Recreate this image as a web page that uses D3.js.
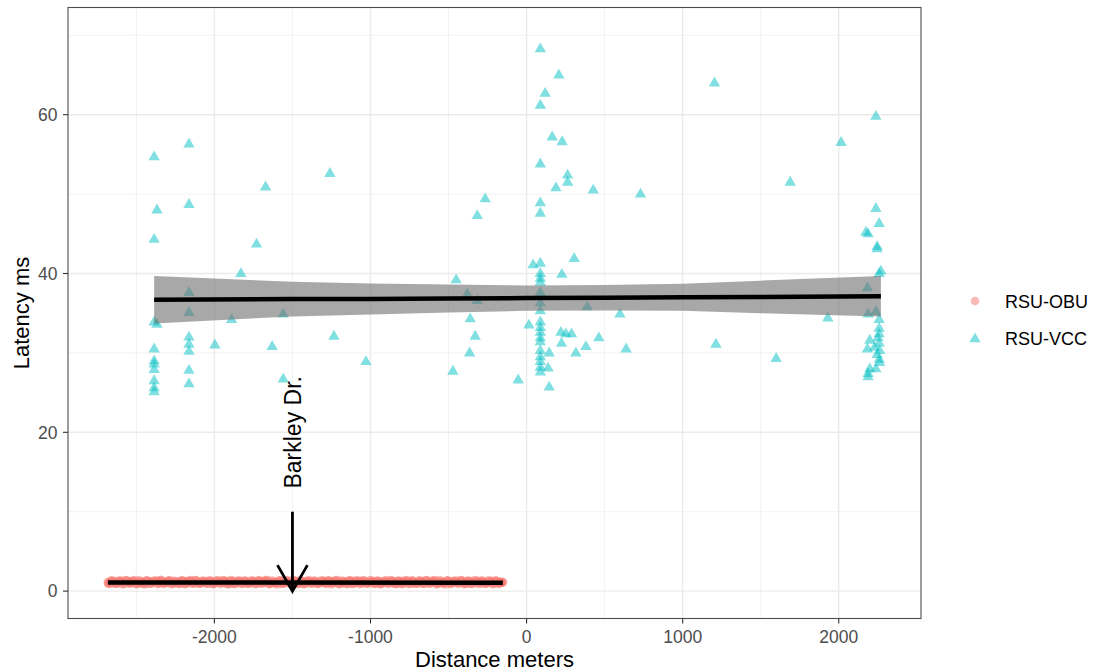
<!DOCTYPE html>
<html>
<head>
<meta charset="utf-8">
<script src="https://cdn.jsdelivr.net/npm/d3@7"></script>
<style>
  html, body { margin: 0; padding: 0; background: #ffffff; }
  svg { display: block; font-family: "Liberation Sans", Arial, Helvetica, sans-serif; }
</style>
</head>
<body>
<svg id="chart" width="1093" height="672"></svg>
<script>
// ---- RSU-OBU latency samples (distance in m, latency in ms), three passes ----
const obuDistanceA = [
  -2682, -2668, -2641, -2620, -2597, -2575, -2549, -2533, -2508, -2486,
  -2462, -2441, -2419, -2396, -2371, -2352, -2330, -2305, -2284, -2262,
  -2240, -2217, -2195, -2171, -2150, -2128, -2104, -2083, -2061, -2037,
  -2015, -1994, -1970, -1948, -1925, -1903, -1881, -1859, -1836, -1813,
  -1792, -1770, -1747, -1724, -1702, -1680, -1659, -1635, -1613, -1590,
  -1569, -1546, -1523, -1500, -1479, -1457, -1434, -1411, -1390, -1367,
  -1345, -1322, -1300, -1278, -1255, -1233, -1210, -1188, -1166, -1143,
  -1121, -1098, -1076, -1054, -1031, -1009, -987, -964, -942, -919,
  -897, -875, -852, -830, -808, -785, -763, -741, -718, -696,
  -674, -651, -629, -607, -584, -562, -540, -517, -495, -473,
  -450, -428, -406, -383, -361, -339, -316, -294, -272, -249,
  -227, -205, -182, -165, -152
];
const obuLatencyA = [
  1.12, 0.98, 1.25, 1.05, 1.31, 0.92, 1.18, 1.08, 1.36, 1.02,
  1.15, 0.89, 1.22, 1.10, 1.29, 0.95, 1.14, 1.06, 1.33, 1.01,
  1.19, 0.91, 1.24, 1.09, 1.38, 0.97, 1.13, 1.04, 1.27, 0.93,
  1.17, 1.11, 1.35, 1.00, 1.21, 0.88, 1.26, 1.07, 1.32, 0.96,
  1.16, 1.03, 1.28, 0.94, 1.20, 1.12, 1.37, 0.99, 1.14, 0.90,
  1.23, 1.08, 1.30, 1.02, 1.18, 0.95, 1.25, 1.10, 1.34, 0.97,
  1.15, 1.05, 1.29, 0.92, 1.19, 1.09, 1.36, 1.01, 1.22, 0.89,
  1.27, 1.06, 1.31, 0.98, 1.13, 1.04, 1.26, 0.93, 1.17, 1.11,
  1.38, 1.00, 1.21, 0.91, 1.24, 1.07, 1.33, 0.96, 1.16, 1.03,
  1.28, 0.94, 1.20, 1.12, 1.35, 0.99, 1.14, 0.90, 1.23, 1.08,
  1.30, 1.02, 1.18, 0.95, 1.25, 1.10, 1.32, 0.97, 1.15, 1.05,
  1.27, 0.92, 1.19, 1.09, 1.12
];
const obuDistanceB = [
  -2676, -2655, -2631, -2608, -2587, -2561, -2540, -2520, -2497, -2473,
  -2452, -2430, -2408, -2383, -2362, -2341, -2318, -2294, -2273, -2251,
  -2229, -2206, -2183, -2161, -2139, -2116, -2093, -2072, -2049, -2026,
  -2004, -1982, -1959, -1937, -1914, -1892, -1870, -1847, -1825, -1802,
  -1781, -1758, -1736, -1713, -1691, -1669, -1647, -1624, -1601, -1580,
  -1557, -1535, -1511, -1490, -1468, -1446, -1423, -1401, -1379, -1356,
  -1334, -1311, -1289, -1266, -1244, -1222, -1199, -1177, -1155, -1132,
  -1110, -1087, -1065, -1043, -1020, -998, -976, -953, -931, -908,
  -886, -864, -841, -819, -797, -774, -752, -730, -707, -685,
  -663, -640, -618, -596, -573, -551, -529, -506, -484, -462,
  -439, -417, -395, -372, -350, -328, -305, -283, -261, -238,
  -216, -194, -173, -158
];
const obuLatencyB = [
  1.04, 1.28, 0.93, 1.20, 1.11, 1.34, 0.99, 1.23, 0.90, 1.16,
  1.07, 1.31, 0.96, 1.19, 1.13, 1.37, 1.01, 1.25, 0.88, 1.14,
  1.09, 1.30, 0.94, 1.22, 1.05, 1.35, 0.98, 1.18, 1.12, 1.27,
  0.92, 1.15, 1.08, 1.33, 1.00, 1.24, 0.89, 1.17, 1.10, 1.29,
  0.95, 1.21, 1.06, 1.36, 1.02, 1.26, 0.91, 1.13, 1.09, 1.32,
  0.97, 1.20, 1.04, 1.38, 0.99, 1.23, 0.93, 1.16, 1.11, 1.28,
  0.96, 1.19, 1.07, 1.34, 1.01, 1.25, 0.90, 1.14, 1.12, 1.30,
  0.94, 1.22, 1.05, 1.35, 0.98, 1.18, 1.10, 1.27, 0.92, 1.15,
  1.08, 1.31, 1.00, 1.24, 0.89, 1.17, 1.13, 1.29, 0.95, 1.21,
  1.06, 1.37, 1.02, 1.26, 0.91, 1.14, 1.09, 1.33, 0.97, 1.20,
  1.04, 1.36, 0.99, 1.23, 0.93, 1.16, 1.11, 1.28, 0.96, 1.19,
  1.07, 1.32, 1.01, 1.10
];
const obuDistanceC = [
  -2679, -2661, -2636, -2614, -2592, -2568, -2545, -2526, -2502, -2480,
  -2457, -2435, -2413, -2389, -2366, -2346, -2324, -2299, -2278, -2256,
  -2234, -2211, -2189, -2166, -2144, -2122, -2098, -2077, -2055, -2031,
  -2009, -1988, -1964, -1942, -1919, -1897, -1875, -1853, -1830, -1807,
  -1786, -1764, -1741, -1718, -1696, -1674, -1653, -1629, -1607, -1585,
  -1563, -1540, -1517, -1495, -1473, -1451, -1428, -1406, -1384, -1361,
  -1339, -1316, -1294, -1272, -1249, -1227, -1205, -1182, -1160, -1137,
  -1115, -1093, -1070, -1048, -1025, -1003, -981, -958, -936, -914,
  -891, -869, -847, -824, -802, -780, -757, -735, -713, -690,
  -668, -646, -623, -601, -579, -556, -534, -512, -489, -467,
  -445, -422, -400, -378, -355, -333, -311, -288, -266, -244,
  -221, -199, -177, -161
];
const obuLatencyC = [
  0.92, 1.34, 0.95, 1.31, 0.90, 1.36, 0.97, 1.29, 0.93, 1.33,
  0.89, 1.35, 0.96, 1.30, 0.91, 1.37, 0.94, 1.32, 0.98, 1.28,
  0.92, 1.34, 0.90, 1.31, 0.95, 1.36, 0.93, 1.29, 0.97, 1.33,
  0.91, 1.35, 0.94, 1.30, 0.89, 1.37, 0.96, 1.32, 0.92, 1.28,
  0.95, 1.34, 0.90, 1.31, 0.97, 1.36, 0.93, 1.29, 0.91, 1.33,
  0.94, 1.35, 0.96, 1.30, 0.92, 1.37, 0.89, 1.32, 0.95, 1.28,
  0.93, 1.34, 0.97, 1.31, 0.90, 1.36, 0.94, 1.29, 0.92, 1.33,
  0.96, 1.35, 0.91, 1.30, 0.95, 1.37, 0.93, 1.32, 0.89, 1.28,
  0.94, 1.34, 0.92, 1.31, 0.97, 1.36, 0.90, 1.29, 0.95, 1.33,
  0.93, 1.35, 0.96, 1.30, 0.91, 1.37, 0.94, 1.32, 0.92, 1.28,
  0.97, 1.34, 0.90, 1.31, 0.95, 1.36, 0.93, 1.29, 0.96, 1.33,
  0.91, 1.30, 0.94, 1.12
];

// ---- RSU-VCC latency samples ----
const vccDistance = [
  -2386, -2368, -2386, -2386, -2368, -2386, -2386, -2386, -2386, -2386, -2386, -2386,
  -2163, -2163, -2163, -2163, -2163, -2163, -2163, -2163, -2163,
  -1672, -1260, -1730, -1830, -1559, -1890, -1997, -1630, -1234, -1029, -1559,
  -265, -316, -451, -380, -316, -361, -329, -365, -472,
  88, 88, 88, 88, 88, 88, 88, 88, 88, 88, 88, 88, 88, 88, 88, 88, 88, 88, 88, 88, 88, 88,
  207, 119, 164, 228, 263, 263, 188, 427, 42, 305, 226, 388, 598, 15, 220, 252, 288,
  463, 224, 380, 638, 145, 316, 138, 145, -54,
  1204, 730, 1689, 1213, 1599, 1930, 2015,
  2238, 2238, 2259, 2174, 2188, 2246, 2246, 2270, 2259, 2184, 2188, 2238, 2259, 2259,
  2259, 2199, 2252, 2259, 2184, 2230, 2262, 2246, 2259, 2262, 2199, 2238, 2188, 2188
];
const vccLatency = [
  54.8, 48.1, 44.4, 34.0, 33.7, 30.6, 29.1, 28.7, 28.0, 26.6, 25.7, 25.2,
  56.4, 48.8, 37.7, 35.2, 32.1, 31.2, 30.3, 27.9, 26.2,
  51.0, 52.7, 43.8, 40.1, 35.0, 34.3, 31.1, 30.9, 32.2, 29.0, 26.8,
  49.5, 47.4, 39.3, 37.5, 36.7, 34.4, 32.2, 30.1, 27.8,
  68.4, 61.3, 53.9, 49.0, 47.7, 41.4, 40.1, 39.5, 39.0, 37.7, 36.4, 35.4, 34.0, 33.3, 32.7, 32.0, 31.5, 30.4, 29.6, 29.0, 28.3, 27.7,
  65.1, 62.8, 57.3, 56.7, 52.5, 51.6, 50.9, 50.6, 41.2, 42.0, 40.0, 35.9, 35.0, 33.6, 32.7, 32.5, 32.5,
  32.0, 31.3, 30.9, 30.6, 30.1, 30.1, 28.2, 25.8, 26.7,
  64.1, 50.1, 51.6, 31.2, 29.4, 34.5, 56.6,
  59.9, 48.3, 46.4, 45.3, 45.1, 43.5, 43.2, 40.4, 40.1, 38.3, 35.0, 35.3, 34.3, 33.2,
  32.5, 31.7, 32.0, 31.3, 30.6, 30.8, 30.4, 29.9, 29.3, 28.9, 28.1, 28.1, 27.5, 27.1
];

// ---- Linear fits (fitted value with 95% band) ----
const obuFitDistance = [-2682, -152];
const obuFitLatency = [1.09, 1.06];

const vccFitDistance = [-2386, -1500, -1000, -500, 0, 500, 1000, 1500, 2270];
const vccFitLatency  = [36.70, 36.78, 36.80, 36.85, 36.90, 36.95, 37.00, 37.05, 37.15];
const vccFitLower    = [33.70, 34.60, 34.85, 35.10, 35.30, 35.35, 35.30, 35.00, 34.60];
const vccFitUpper    = [39.70, 38.95, 38.75, 38.60, 38.50, 38.55, 38.70, 39.10, 39.70];

// ---- Axes ----
const xTicks = [-2000, -1000, 0, 1000, 2000];
const xMinor = [-2500, -1500, -500, 500, 1500];
const yTicks = [0, 20, 40, 60];
const yMinor = [10, 30, 50, 70];

const seriesNames = ["RSU-OBU", "RSU-VCC"];
const seriesColors = ["#F8766D", "#00BFC4"];

// ---- Annotation ----
const landmarkLabel = "Barkley Dr.";
const landmarkDistance = -1500;
const landmarkLabelLatency = 20;
const arrowFrom = 10;
const arrowTo = 0;

// ---- Layout ----
const svg = d3.select("#chart");
const panel = { left: 68, right: 921, top: 7.5, bottom: 618.5 };

const x = d3.scaleLinear().domain([-2938, 2527]).range([panel.left, panel.right]);
const y = d3.scaleLinear().domain([-3.45, 73.5]).range([panel.bottom, panel.top]);

const g = svg.append("g");

// panel background
g.append("rect")
  .attr("x", panel.left).attr("y", panel.top)
  .attr("width", panel.right - panel.left).attr("height", panel.bottom - panel.top)
  .attr("fill", "#ffffff");

// grid lines
const grid = g.append("g");
grid.selectAll(".xminor").data(xMinor).join("line")
  .attr("x1", d => x(d)).attr("x2", d => x(d))
  .attr("y1", panel.top).attr("y2", panel.bottom)
  .attr("stroke", "#F2F2F2").attr("stroke-width", 1);
grid.selectAll(".yminor").data(yMinor).join("line")
  .attr("y1", d => y(d)).attr("y2", d => y(d))
  .attr("x1", panel.left).attr("x2", panel.right)
  .attr("stroke", "#F2F2F2").attr("stroke-width", 1);
grid.selectAll(".xmajor").data(xTicks).join("line")
  .attr("x1", d => x(d)).attr("x2", d => x(d))
  .attr("y1", panel.top).attr("y2", panel.bottom)
  .attr("stroke", "#EBEBEB").attr("stroke-width", 1.4);
grid.selectAll(".ymajor").data(yTicks).join("line")
  .attr("y1", d => y(d)).attr("y2", d => y(d))
  .attr("x1", panel.left).attr("x2", panel.right)
  .attr("stroke", "#EBEBEB").attr("stroke-width", 1.4);

// points
const pair = (ds, vs) => ds.map((d, i) => ({ d, v: vs[i] }));
const obu = pair(obuDistanceA, obuLatencyA)
  .concat(pair(obuDistanceB, obuLatencyB))
  .concat(pair(obuDistanceC, obuLatencyC));
const vcc = pair(vccDistance, vccLatency);

g.append("g").selectAll("circle").data(obu).join("circle")
  .attr("cx", p => x(p.d)).attr("cy", p => y(p.v))
  .attr("r", 4.5)
  .attr("fill", seriesColors[0]).attr("fill-opacity", 0.5);

const tri = d3.symbol().type(d3.symbolTriangle).size(56);
g.append("g").selectAll("path").data(vcc).join("path")
  .attr("transform", p => `translate(${x(p.d)},${y(p.v) + 1})`)
  .attr("d", tri)
  .attr("fill", seriesColors[1]).attr("fill-opacity", 0.5);

// fitted band and lines
const band = vccFitDistance.map((d, i) => ({ d, lo: vccFitLower[i], hi: vccFitUpper[i], f: vccFitLatency[i] }));
g.append("path").datum(band)
  .attr("d", d3.area().x(p => x(p.d)).y0(p => y(p.lo)).y1(p => y(p.hi)))
  .attr("fill", "#6e6e6e").attr("fill-opacity", 0.6);

const fitLine = d3.line().x(p => x(p.d)).y(p => y(p.f));
g.append("path").datum(band)
  .attr("d", fitLine)
  .attr("fill", "none").attr("stroke", "#000").attr("stroke-width", 4.5);

const obuFit = obuFitDistance.map((d, i) => ({ d, f: obuFitLatency[i] }));
g.append("path").datum(obuFit)
  .attr("d", fitLine)
  .attr("fill", "none").attr("stroke", "#000").attr("stroke-width", 4.5);

// annotation arrow and label
const ax = x(landmarkDistance);
const tipY = y(arrowTo);
const headLen = 30, headAng = Math.PI / 6;
const ann = g.append("g").attr("stroke", "#000").attr("stroke-width", 2.8).attr("fill", "none");
ann.append("line")
  .attr("x1", ax).attr("x2", ax).attr("y1", y(arrowFrom)).attr("y2", tipY);
ann.append("path")
  .attr("d", `M${ax - headLen * Math.sin(headAng)},${tipY - headLen * Math.cos(headAng)}L${ax},${tipY}L${ax + headLen * Math.sin(headAng)},${tipY - headLen * Math.cos(headAng)}`);

g.append("text")
  .attr("transform", `translate(${ax + 8.5},${y(landmarkLabelLatency)}) rotate(-90)`)
  .attr("text-anchor", "middle")
  .attr("font-size", 23)
  .attr("fill", "#000")
  .text(landmarkLabel);

// panel border
g.append("rect")
  .attr("x", panel.left).attr("y", panel.top)
  .attr("width", panel.right - panel.left).attr("height", panel.bottom - panel.top)
  .attr("fill", "none").attr("stroke", "#4d4d4d").attr("stroke-width", 1.1);

// axis ticks and labels
const axisX = g.append("g");
axisX.selectAll("line").data(xTicks).join("line")
  .attr("x1", d => x(d)).attr("x2", d => x(d))
  .attr("y1", panel.bottom).attr("y2", panel.bottom + 5)
  .attr("stroke", "#333").attr("stroke-width", 1.1);
axisX.selectAll("text").data(xTicks).join("text")
  .attr("x", d => x(d)).attr("y", panel.bottom + 24)
  .attr("text-anchor", "middle").attr("font-size", 17.5).attr("fill", "#4D4D4D")
  .text(d => d3.format("d")(d).replace("−", "-"));

const axisY = g.append("g");
axisY.selectAll("line").data(yTicks).join("line")
  .attr("y1", d => y(d)).attr("y2", d => y(d))
  .attr("x1", panel.left - 5).attr("x2", panel.left)
  .attr("stroke", "#333").attr("stroke-width", 1.1);
axisY.selectAll("text").data(yTicks).join("text")
  .attr("x", panel.left - 10.5).attr("y", d => y(d) + 6.3)
  .attr("text-anchor", "end").attr("font-size", 17.5).attr("fill", "#4D4D4D")
  .text(d => d);

// axis titles
svg.append("text")
  .attr("x", (panel.left + panel.right) / 2).attr("y", 667)
  .attr("text-anchor", "middle").attr("font-size", 22).attr("fill", "#000")
  .text("Distance meters");
svg.append("text")
  .attr("transform", `translate(29,${(panel.top + panel.bottom) / 2}) rotate(-90)`)
  .attr("text-anchor", "middle").attr("font-size", 22).attr("fill", "#000")
  .text("Latency ms");

// legend
const legend = svg.append("g");
const legendY = [301, 338];
legend.append("circle")
  .attr("cx", 975).attr("cy", legendY[0]).attr("r", 4.3)
  .attr("fill", seriesColors[0]).attr("fill-opacity", 0.5);
legend.append("path")
  .attr("transform", `translate(975,${legendY[1] + 1})`)
  .attr("d", tri)
  .attr("fill", seriesColors[1]).attr("fill-opacity", 0.5);
legend.selectAll("text").data(seriesNames).join("text")
  .attr("x", 1005).attr("y", (d, i) => legendY[i] + 6.5)
  .attr("font-size", 18).attr("fill", "#000")
  .text(d => d);
</script>
</body>
</html>
